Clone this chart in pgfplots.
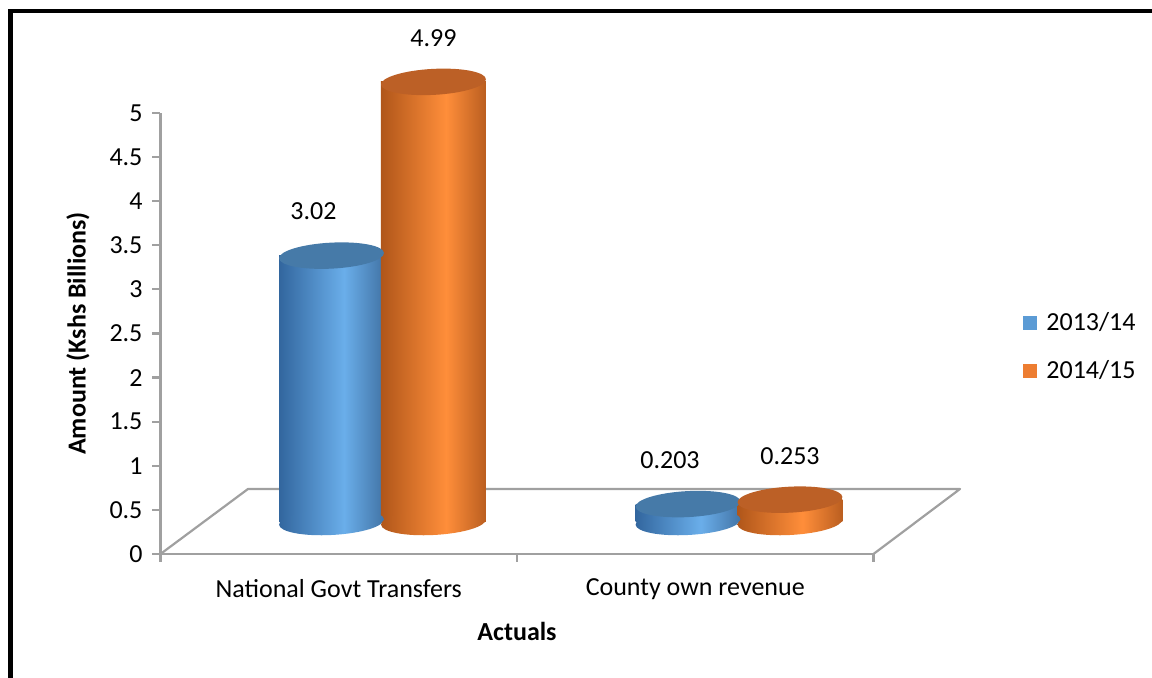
\documentclass[border=0pt]{standalone}
\usepackage{fontspec}
\setmainfont{Carlito}
\usepackage{pgfplots}
\pgfplotsset{compat=1.18}

\definecolor{axisgray}{RGB}{160,160,160}
\definecolor{bdark}{RGB}{50,102,158}
\definecolor{blight}{RGB}{106,174,234}
\definecolor{bdark2}{RGB}{66,116,166}
\definecolor{bcap}{RGB}{70,122,168}
\definecolor{odark}{RGB}{176,86,26}
\definecolor{olight}{RGB}{255,142,58}
\definecolor{odark2}{RGB}{186,94,32}
\definecolor{ocap}{RGB}{188,96,38}
\definecolor{legblue}{RGB}{91,155,213}
\definecolor{legorange}{RGB}{237,125,49}

% side shading of the cylinders (dark - light - dark, left to right)
\pgfdeclarehorizontalshading{blueshade}{100bp}{color(0bp)=(bdark); color(25bp)=(bdark); color(56bp)=(blight); color(75bp)=(bdark2); color(100bp)=(bdark2)}
\pgfdeclarehorizontalshading{orangeshade}{100bp}{color(0bp)=(odark); color(25bp)=(odark); color(56bp)=(olight); color(75bp)=(odark2); color(100bp)=(odark2)}

% ellipses for the caps and bottoms
\def\cylellipse{\pgfpathellipse{\pgfpointorigin}{\pgfqpoint{26.21pt}{1.37pt}}{\pgfqpoint{-0.34pt}{6.49pt}}}
\pgfdeclareplotmark{capB}{\cylellipse\pgfsetfillcolor{bcap}\pgfusepath{fill}}
\pgfdeclareplotmark{capO}{\cylellipse\pgfsetfillcolor{ocap}\pgfusepath{fill}}
\pgfdeclareplotmark{botB}{\cylellipse\pgfshadepath{blueshade}{0}\pgfusepath{discard}}
\pgfdeclareplotmark{botO}{\cylellipse\pgfshadepath{orangeshade}{0}\pgfusepath{discard}}

\newcommand\fs{\fontsize{13}{15}\selectfont}

\begin{document}
\begin{tikzpicture}
\useasboundingbox (0pt,0pt) rectangle (576pt,339pt);
% frame
\fill[black] (4pt,334.25pt) rectangle (576pt,332.5pt);
\fill[black] (4pt,334.25pt) rectangle (6.5pt,0pt);
% floor
\draw[axisgray, line width=1.1pt, line join=round] (80.25pt,62pt) -- (124pt,94.5pt) -- (480pt,94.5pt) -- (436.75pt,62pt);

% front plane: axes, ticks, labels, legend
\begin{axis}[
    at={(80.25pt,62pt)}, anchor=south west, scale only axis,
    width=356.5pt, height=220.5pt,
    xmin=0, xmax=2, ymin=0, ymax=5,
    axis x line=bottom, axis y line=left,
    axis line style={axisgray, line width=1.1pt, -},
    xtick={0,1,2}, x tick label as interval,
    xticklabels={National Govt Transfers, County own revenue},
    ytick={0,0.5,1,1.5,2,2.5,3,3.5,4,4.5,5},
    tick align=outside, major tick length=4pt,
    tick style={axisgray, line width=1.1pt},
    tick label style={font=\fs, black},
    /pgf/number format/assume math mode=true,
    yticklabel style={xshift=-1.5pt},
    xticklabel style={yshift=-5pt},
    xlabel={\bfseries Actuals},
    ylabel={\bfseries Amount (Kshs Billions)},
    label style={font=\fs},
    xlabel style={at={(0.5,-0.1746)}, anchor=center},
    ylabel style={at={(-0.1157,0.5)}, anchor=center},
    legend image code/.code={\fill[#1] (0pt,-3.5pt) rectangle (7pt,3.5pt); \path (9.5pt,0pt);},
    legend style={at={(1.2097,0.4694)}, anchor=west, draw=none, fill=none,
        inner sep=0pt, row sep=9pt, font=\fs, legend cell align=left},
]
\addlegendimage{fill=legblue, draw=none}
\addlegendentry{2013/14}
\addlegendimage{fill=legorange, draw=none}
\addlegendentry{2014/15}
\end{axis}

% middle plane: the cylinders
\begin{axis}[
    at={(102.125pt,78pt)}, anchor=south west, scale only axis,
    width=356.5pt, height=220.5pt,
    xmin=0, xmax=2, ymin=0, ymax=5,
    hide axis, clip=false,
    every node near coord/.append style={font=\fs, anchor=center, yshift=22pt},
]
% 2013/14
\addplot[only marks, mark=botB] coordinates {(0.357,0) (1.357,0)};
\addplot[ybar, bar width=52.5pt, bar shift=0pt, draw=none, shading=blueshade, shade] coordinates {(0.357,3.02)};
\addplot[ybar, bar width=52.5pt, bar shift=0pt, draw=none, shading=blueshade, shade] coordinates {(1.357,0.203)};
\addplot[only marks, mark=capB, point meta=explicit symbolic,
    nodes near coords={\pgfplotspointmeta},
    every node near coord/.append style={xshift=-9pt}]
    coordinates {(0.357,3.02)[3.02] (1.357,0.203)[0.203]};
% 2014/15
\addplot[only marks, mark=botO] coordinates {(0.643,0) (1.643,0)};
\addplot[ybar, bar width=52.5pt, bar shift=0pt, draw=none, shading=orangeshade, shade] coordinates {(0.643,4.99)};
\addplot[ybar, bar width=52.5pt, bar shift=0pt, draw=none, shading=orangeshade, shade] coordinates {(1.643,0.253)};
\addplot[only marks, mark=capO, point meta=explicit symbolic,
    nodes near coords={\pgfplotspointmeta}]
    coordinates {(0.643,4.99)[4.99] (1.643,0.253)[0.253]};
\end{axis}
\end{tikzpicture}
\end{document}
